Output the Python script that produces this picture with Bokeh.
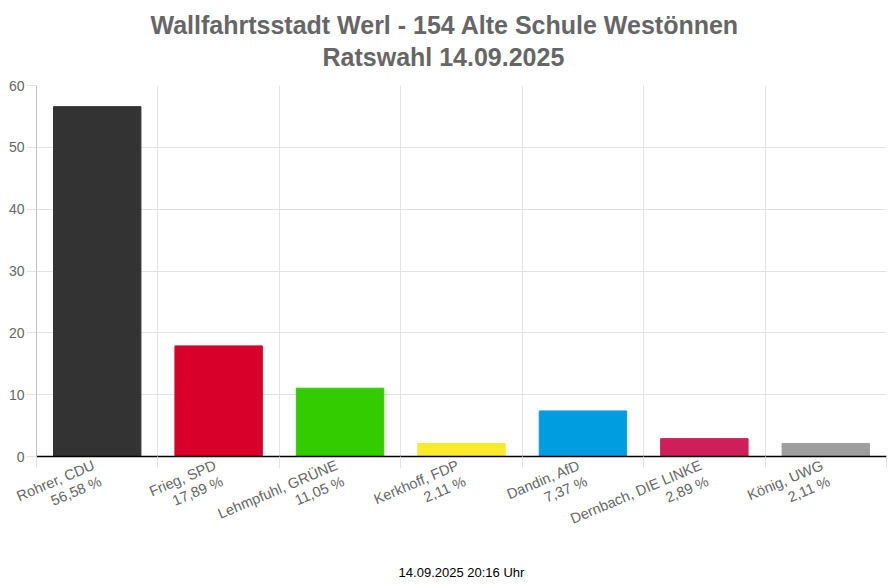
import math
from bokeh.plotting import figure
from bokeh.models import ColumnDataSource, Range1d, FixedTicker, LinearAxis, Title
from bokeh.embed import file_html
from bokeh.resources import INLINE

# ---- data ----
title_line1 = "Wallfahrtsstadt Werl - 154 Alte Schule Westönnen"
title_line2 = "Ratswahl 14.09.2025"
footer = "14.09.2025 20:16 Uhr"
candidates = ["Rohrer, CDU", "Frieg, SPD", "Lehmpfuhl, GRÜNE", "Kerkhoff, FDP",
              "Dandin, AfD", "Dernbach, DIE LINKE", "König, UWG"]
values = [56.58, 17.89, 11.05, 2.11, 7.37, 2.89, 2.11]
colors = ["#333333", "#d8002a", "#33cc00", "#fcea2d", "#009ee0", "#cf1f5a", "#9e9e9e"]
y_ticks = [0, 10, 20, 30, 40, 50, 60]

FONT = "Liberation Sans"
n = len(candidates)
centers = [i + 0.5 for i in range(n)]
bounds = list(range(n + 1))
labels = [f"{c}\n{v:.2f}".replace(".", ",") + " %" for c, v in zip(candidates, values)]

src = ColumnDataSource(dict(x=centers, top=values, color=colors))

p = figure(width=890, height=585, output_backend="svg", toolbar_location=None,
           x_range=Range1d(0, n), y_range=Range1d(0, 60), title=None,
           min_border_left=36, min_border_right=4, min_border_top=85,
           min_border_bottom=129, x_axis_location=None, y_axis_location=None)
p.outline_line_color = None
p.background_fill_color = "white"
p.border_fill_color = "white"

p.vbar(x="x", top="top", width=0.72, bottom=0, fill_color="color",
       line_color="color", source=src)

# y axis
yaxis = LinearAxis(ticker=FixedTicker(ticks=y_ticks))
yaxis.axis_line_color = "#c0c0c0"
yaxis.major_tick_line_color = "#e3e3e3"
yaxis.major_tick_out = 10
yaxis.major_tick_in = 0
yaxis.minor_tick_line_color = None
yaxis.major_label_standoff = 2
yaxis.major_label_text_font = FONT
yaxis.major_label_text_font_size = "14px"
yaxis.major_label_text_color = "#666666"
p.add_layout(yaxis, "left")

# x axis: labels at centres, tick marks at category boundaries
xaxis = LinearAxis(ticker=FixedTicker(ticks=centers, minor_ticks=bounds))
xaxis.axis_line_color = "black"
xaxis.axis_line_width = 1.5
xaxis.major_tick_line_color = None
xaxis.minor_tick_line_color = "#e3e3e3"
xaxis.minor_tick_out = 12
xaxis.minor_tick_in = 0
xaxis.major_label_overrides = {c: l for c, l in zip(centers, labels)}
xaxis.major_label_orientation = math.radians(23)
xaxis.major_label_standoff = 4
xaxis.major_label_text_font = FONT
xaxis.major_label_text_font_size = "14.5px"
xaxis.major_label_text_color = "#666666"
xaxis.major_label_text_line_height = 1.1
p.add_layout(xaxis, "below")

p.add_layout(Title(text=footer, align="center", text_font=FONT, text_font_size="13px",
                   text_font_style="normal", text_color="black", standoff=2), "below")
# small spacer below the footer line
p.add_layout(Title(text=" ", align="center", text_font=FONT, text_font_size="1px",
                   text_color="white", standoff=2), "below")

p.xgrid.ticker = FixedTicker(ticks=bounds)
p.ygrid.ticker = FixedTicker(ticks=y_ticks)
for g in (p.xgrid, p.ygrid):
    g.grid_line_color = "#e3e3e3"
    g.grid_line_width = 1

# titles (later added = further from the plot)
p.add_layout(Title(text=title_line2, align="left", offset=286, text_font=FONT,
                   text_font_size="25px", text_font_style="bold", text_color="#666666",
                   standoff=30), "above")
p.add_layout(Title(text=title_line1, align="left", offset=114, text_font=FONT,
                   text_font_size="25px", text_font_style="bold", text_color="#666666",
                   standoff=-26), "above")

open("out.html", "w").write(file_html(p, INLINE))
